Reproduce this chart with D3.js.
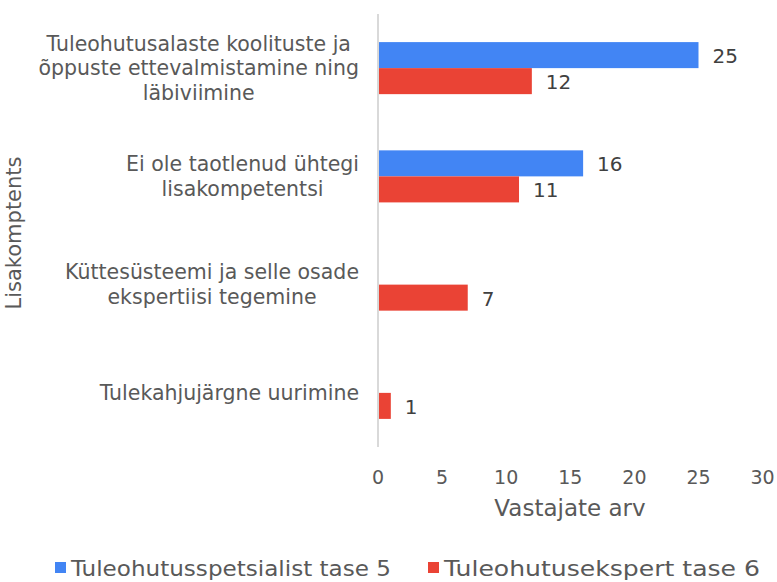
<!DOCTYPE html>
<html lang="et">
<head>
<meta charset="UTF-8">
<title>Lisakompetents</title>
<script src="https://d3js.org/d3.v7.min.js"></script>
<style>
  body { margin: 0; background: #fff; }
  svg { display: block; font-family: "DejaVu Sans", Verdana, sans-serif; }
  .tick-label { fill: #595959; font-size: 19px; }
  .cat-label { fill: #595959; font-size: 20.5px; }
  .value-label { fill: #404040; font-size: 20px; }
  .axis-title { fill: #595959; }
</style>
</head>
<body>
<svg width="777" height="582"></svg>
<script>
const categories = [
  ["Tuleohutusalaste koolituste ja", "õppuste ettevalmistamine ning", "läbiviimine"],
  ["Ei ole taotlenud ühtegi", "lisakompetentsi"],
  ["Küttesüsteemi ja selle osade", "ekspertiisi tegemine"],
  ["Tulekahjujärgne uurimine"]
];
const seriesNames = ["Tuleohutusspetsialist tase 5", "Tuleohutusekspert tase 6"];
const tase5 = [25, 16, null, null];
const tase6 = [12, 11, 7, 1];
const xTicks = [0, 5, 10, 15, 20, 25, 30];
const colors = ["#4285F4", "#EA4335"];

const svg = d3.select("svg");
const plotL = 378, plotR = 762.6, plotT = 14, plotB = 447;

const x = d3.scaleLinear().domain([0, 30]).range([plotL, plotR]);
const y0 = d3.scaleBand().domain(d3.range(categories.length)).range([plotT, plotB]);
const y1 = d3.scaleBand().domain([0, 1]).range([0, y0.bandwidth()]).paddingOuter(1.08);

// x tick labels (no gridlines)
svg.append("g").selectAll("text").data(xTicks).join("text")
  .attr("class", "tick-label")
  .attr("x", d => x(d)).attr("y", 477)
  .attr("text-anchor", "middle").attr("dominant-baseline", "central")
  .text(d => d);

// bars
const series = [tase5, tase6];
series.forEach((vals, s) => {
  const data = vals.map((v, i) => ({ v, i })).filter(d => d.v != null);
  svg.append("g").selectAll("rect").data(data).join("rect")
    .attr("x", x(0))
    .attr("y", d => y0(d.i) + y1(s))
    .attr("width", d => x(d.v) - x(0))
    .attr("height", y1.bandwidth())
    .attr("fill", colors[s]);
  svg.append("g").selectAll("text").data(data).join("text")
    .attr("class", "value-label")
    .attr("x", d => x(d.v) + 14)
    .attr("y", d => y0(d.i) + y1(s) + y1.bandwidth() / 2 + 1)
    .attr("dominant-baseline", "central")
    .text(d => d.v);
});

// vertical axis line
svg.append("line")
  .attr("x1", plotL).attr("x2", plotL).attr("y1", plotT).attr("y2", plotB)
  .attr("stroke", "#D9D9D9").attr("stroke-width", 2);

// category labels, multi-line blocks centred, right aligned to 359
const lineH = 24.5;
categories.forEach((lines, i) => {
  const cy = y0(i) + y0.bandwidth() / 2;
  const t = svg.append("text").attr("class", "cat-label").attr("text-anchor", "middle");
  lines.forEach((ln, k) => {
    t.append("tspan").attr("x", 0)
      .attr("y", cy + (k - (lines.length - 1) / 2) * lineH)
      .attr("dominant-baseline", "central")
      .text(ln);
  });
  let maxW = 0;
  t.selectAll("tspan").each(function() { maxW = Math.max(maxW, this.getComputedTextLength()); });
  t.selectAll("tspan").attr("x", 359 - maxW / 2);
});

// axis titles
svg.append("text").attr("class", "axis-title")
  .attr("x", 570).attr("y", 508)
  .attr("text-anchor", "middle").attr("dominant-baseline", "central")
  .style("font-size", "23px")
  .text("Vastajate arv");
svg.append("text").attr("class", "axis-title")
  .attr("transform", "translate(14,233) rotate(-90)")
  .attr("text-anchor", "middle").attr("dominant-baseline", "central")
  .style("font-size", "21px")
  .text("Lisakomptents");

// legend
const legendX = [55, 428];
const legendW = [320, 316];
const lg = svg.append("g");
seriesNames.forEach((name, s) => {
  lg.append("rect")
    .attr("x", legendX[s]).attr("y", 562)
    .attr("width", 11).attr("height", 11)
    .attr("fill", colors[s]);
  lg.append("text")
    .attr("x", legendX[s] + 16).attr("y", 568)
    .attr("dominant-baseline", "central")
    .attr("fill", "#595959")
    .style("font-size", "22px")
    .attr("textLength", legendW[s])
    .attr("lengthAdjust", "spacingAndGlyphs")
    .text(name);
});
</script>
</body>
</html>
